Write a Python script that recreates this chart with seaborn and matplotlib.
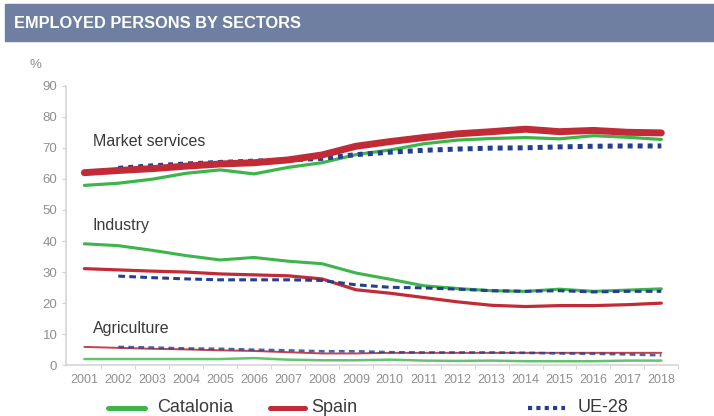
import numpy as np
import pandas as pd
import seaborn as sns
import matplotlib.pyplot as plt
from matplotlib.lines import Line2D
from matplotlib.patches import Rectangle
from matplotlib.ticker import FixedLocator

sns.set_style("white")
plt.rcParams["font.family"] = ["Liberation Sans", "DejaVu Sans"]

GREEN = "#3db54a"
RED = "#c02b37"
BLUE = "#23408e"
GREY = "#8f8f8f"

years = list(range(2001, 2019))
nan = np.nan

# Market services (%)
cat_ms = [57.9, 58.6, 59.9, 61.8, 62.9, 61.6, 63.7, 65.2, 67.8, 69.3, 71.3, 72.5, 73.0, 73.3, 72.9, 73.9, 73.4, 72.7]
spa_ms = [62.0, 62.7, 63.3, 64.1, 64.8, 65.2, 66.1, 67.7, 70.5, 72.0, 73.3, 74.5, 75.2, 76.0, 75.2, 75.6, 75.0, 74.8]
ue_ms = [nan, 63.4, 64.2, 64.8, 65.3, 65.7, 66.1, 66.6, 67.8, 68.6, 69.2, 69.6, 69.9, 70.0, 70.3, 70.5, 70.6, 70.6]

# Industry (%)
cat_ind = [39.1, 38.5, 37.0, 35.3, 33.9, 34.7, 33.5, 32.7, 29.7, 27.7, 25.6, 24.7, 24.0, 23.8, 24.5, 23.8, 24.2, 24.6]
spa_ind = [31.1, 30.7, 30.3, 30.0, 29.4, 29.1, 28.8, 27.8, 24.3, 23.2, 21.8, 20.4, 19.3, 18.9, 19.2, 19.2, 19.5, 20.0]
ue_ind = [nan, 28.7, 28.2, 27.8, 27.5, 27.5, 27.5, 27.3, 25.9, 25.1, 24.9, 24.5, 24.0, 23.8, 24.0, 23.6, 23.8, 23.8]

# Agriculture (%)
cat_agr = [2.0, 2.0, 2.0, 2.0, 2.0, 2.3, 1.8, 1.6, 1.6, 1.8, 1.5, 1.4, 1.5, 1.3, 1.3, 1.3, 1.5, 1.5]
spa_agr = [5.9, 5.6, 5.3, 5.1, 4.8, 4.6, 4.2, 3.8, 3.8, 4.0, 4.0, 4.0, 4.0, 4.0, 4.0, 4.0, 4.0, 4.0]
ue_agr = [nan, 5.9, 5.7, 5.4, 5.3, 5.0, 4.8, 4.5, 4.5, 4.2, 4.1, 4.1, 4.1, 4.0, 3.8, 3.7, 3.5, 3.2]

df = pd.DataFrame({
    "year": years,
    "cat_ms": cat_ms, "spa_ms": spa_ms, "ue_ms": ue_ms,
    "cat_ind": cat_ind, "spa_ind": spa_ind, "ue_ind": ue_ind,
    "cat_agr": cat_agr, "spa_agr": spa_agr, "ue_agr": ue_agr,
})

fig = plt.figure(figsize=(7.14, 4.16), dpi=100)
ax = fig.add_axes([0.092, 0.122, 0.858, 0.672])

# header band
fig.add_artist(Rectangle((5 / 714, 1 - 41 / 416), 709 / 714, 37 / 416,
                         transform=fig.transFigure, color="#6e7fa1", zorder=0))
fig.text(14 / 714, 1 - 23.5 / 416, "EMPLOYED PERSONS BY SECTORS", color="white",
         fontsize=11.8, fontweight="bold", va="center", ha="left")

styles = [
    # market services
    ("cat_ms", GREEN, 2.3, "-", 1.0),
    ("ue_ms", BLUE, 3.6, (0, (1, 1)), 1.0),
    ("spa_ms", RED, 5.0, "-", 1.0),
    # industry
    ("cat_ind", GREEN, 2.2, "-", 1.0),
    ("spa_ind", RED, 2.3, "-", 1.0),
    ("ue_ind", BLUE, 2.2, (0, (2.2, 1.4)), 1.0),
    # agriculture
    ("cat_agr", GREEN, 1.8, "-", 0.8),
    ("spa_agr", RED, 1.4, "-", 0.9),
    ("ue_agr", BLUE, 1.9, (0, (2.2, 1.6)), 0.8),
]
for col, color, lw, ls, alpha in styles:
    sns.lineplot(data=df, x="year", y=col, ax=ax, color=color, linewidth=lw,
                 linestyle=ls, alpha=alpha, dash_capstyle="butt")

ax.set_xlim(2000.45, 2018.5)
ax.set_ylim(0, 90)
ax.set_xlabel("")
ax.set_ylabel("")
ax.set_xticks(years)
ax.set_xticklabels([str(y) for y in years])
ax.xaxis.set_minor_locator(FixedLocator([y + 0.5 for y in years]))
ax.tick_params(axis="x", which="major", length=0, labelsize=9, labelcolor=GREY, pad=6)
ax.tick_params(axis="x", which="minor", length=3, color="#d0d0d0", bottom=True)
ax.set_yticks(range(0, 91, 10))
ax.tick_params(axis="y", length=3, color="#d0d0d0", labelsize=9.5, labelcolor=GREY, left=True, pad=3)

for side in ["top", "right"]:
    ax.spines[side].set_visible(False)
for side in ["left", "bottom"]:
    ax.spines[side].set_color("#d5d5d5")
    ax.spines[side].set_linewidth(1.2)

ax.text(-0.05, 1.075, "%", transform=ax.transAxes, fontsize=9.5, color=GREY, ha="center", va="center")

ax.text(2001.25, 70.5, "Market services", fontsize=11.5, color="#3a3a3a")
ax.text(2001.25, 43.5, "Industry", fontsize=11.5, color="#3a3a3a")
ax.text(2001.25, 10.5, "Agriculture", fontsize=11.5, color="#3a3a3a")

# legend along the bottom edge
ly = 1 - 407.5 / 416
legend_items = [
    (108, 145, 157, "Catalonia", GREEN, 3.6, "-"),
    (270, 305, 311, "Spain", RED, 3.6, "-"),
    (528, 565, 578, "UE-28", BLUE, 3.0, (0, (1, 1))),
]
for x0, x1, xt, label, color, lw, ls in legend_items:
    fig.add_artist(Line2D([x0 / 714, x1 / 714], [ly, ly], transform=fig.transFigure,
                          color=color, linewidth=lw, linestyle=ls, dash_capstyle="butt"))
    fig.text(xt / 714, 1 - 407 / 416, label, fontsize=13, color="#3a3a3a", va="center", ha="left")

fig.savefig("out.png", dpi=100)
